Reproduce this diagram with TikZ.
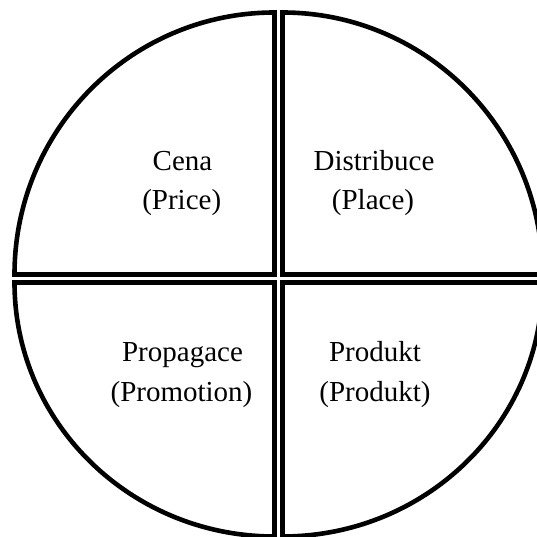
\documentclass[tikz,border=0pt]{standalone}
\usepackage{fontspec}
\setmainfont{Liberation Serif}
\begin{document}
\begin{tikzpicture}[x=1pt,y=1pt,
  quadrant/.style={draw=black,line width=4.6pt,fill=white},
  label/.style={anchor=base,inner sep=0pt,font=\fontsize{29}{36}\selectfont}]
\useasboundingbox (0,0) rectangle (536,537);
% four separate quarter pieces of the circle
\draw[quadrant] (274.5,262.5) -- (14.5,262.5)
  arc[start angle=180,end angle=90,x radius=260,y radius=262] -- cycle;
\draw[quadrant] (282.5,262.5) -- (282.5,524.5)
  arc[start angle=90,end angle=0,x radius=260,y radius=262] -- cycle;
\draw[quadrant] (274.5,254.5) -- (14.5,254.5)
  arc[start angle=180,end angle=270,x radius=260,y radius=254] -- cycle;
\draw[quadrant] (282.5,254.5) -- (542.5,254.5)
  arc[start angle=0,end angle=-90,x radius=260,y radius=254] -- cycle;
% labels
\node[label] (cena)  at (182.5,366) {Cena};
\node[label] (price) at (181.7,327) {(Price)};
\node[label] (dist)  at (374,366)   {Distribuce};
\node[label] (place) at (373,327)   {(Place)};
\node[label] (prop)  at (182.5,175) {Propagace};
\node[label] (promo) at (181.5,135.3) {(Promotion)};
\node[label] (prod)  at (375,175)   {Produkt};
\node[label] (prodb) at (375,135.3) {(Produkt)};
\end{tikzpicture}
\end{document}
